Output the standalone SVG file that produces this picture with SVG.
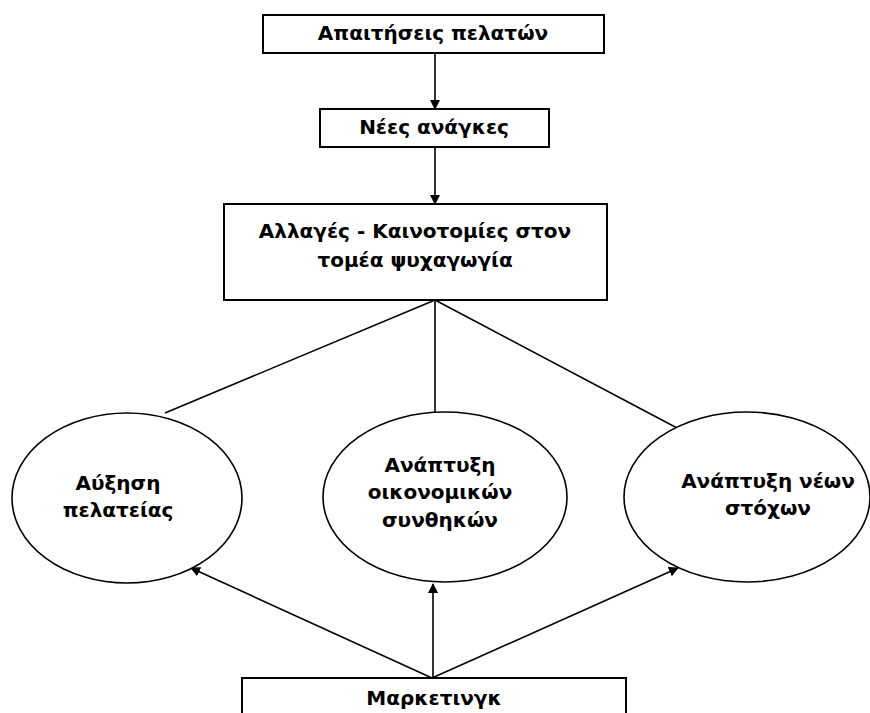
<svg xmlns="http://www.w3.org/2000/svg" width="870" height="713" viewBox="0 0 870 713">
<defs>
<marker id="ah" markerWidth="10" markerHeight="10" refX="9" refY="5" orient="auto" markerUnits="userSpaceOnUse">
<path d="M0,0 L10,5 L0,10 Z" fill="#000"/>
</marker>
<style>
.box{fill:#fff;stroke:#000;stroke-width:2}
.ell{fill:#fff;stroke:#000;stroke-width:1.6}
.t{font-family:"DejaVu Sans","Liberation Sans",sans-serif;font-weight:bold;font-size:20px;text-anchor:middle;fill:#000}
.c{stroke:#000;stroke-width:1.6;fill:none}
</style>
</defs>
<rect width="870" height="713" fill="#fff"/>
<g id="connectors">
<line class="c" x1="435" y1="53" x2="435" y2="109" marker-end="url(#ah)"/>
<line class="c" x1="435" y1="147" x2="435" y2="204" marker-end="url(#ah)"/>
<line class="c" x1="435" y1="300" x2="165" y2="413"/>
<line class="c" x1="435" y1="300" x2="435" y2="412"/>
<line class="c" x1="435" y1="300" x2="679" y2="429"/>
<line class="c" x1="432" y1="678" x2="191" y2="568" marker-end="url(#ah)"/>
<line class="c" x1="433" y1="678" x2="433" y2="584" marker-end="url(#ah)"/>
<line class="c" x1="432" y1="678" x2="678" y2="568" marker-end="url(#ah)"/>
</g>
<g id="n1">
<rect class="box" x="263" y="15" width="341" height="38"/>
<text class="t" x="433" y="40">Απαιτήσεις πελατών</text>
</g>
<g id="n2">
<rect class="box" x="320" y="109" width="229" height="38"/>
<text class="t" x="434" y="134">Νέες ανάγκες</text>
</g>
<g id="n3">
<rect class="box" x="224" y="204" width="383" height="96"/>
<text class="t" x="415" y="238">Αλλαγές - Καινοτομίες στον</text>
<text class="t" x="415" y="267">τομέα ψυχαγωγία</text>
</g>
<g id="n4">
<ellipse class="ell" cx="127" cy="498" rx="115" ry="85"/>
<text class="t" x="118" y="490">Αύξηση</text>
<text class="t" x="118" y="517">πελατείας</text>
</g>
<g id="n5">
<ellipse class="ell" cx="445" cy="497" rx="122" ry="85"/>
<text class="t" x="440" y="472">Ανάπτυξη</text>
<text class="t" x="440" y="499">οικονομικών</text>
<text class="t" x="440" y="527">συνθηκών</text>
</g>
<g id="n6">
<ellipse class="ell" cx="747" cy="497" rx="123" ry="85"/>
<text class="t" x="768" y="488">Ανάπτυξη νέων</text>
<text class="t" x="768" y="515">στόχων</text>
</g>
<g id="n7">
<rect class="box" x="242" y="678" width="384" height="50"/>
<text class="t" x="434" y="705">Μαρκετινγκ</text>
</g>
</svg>
